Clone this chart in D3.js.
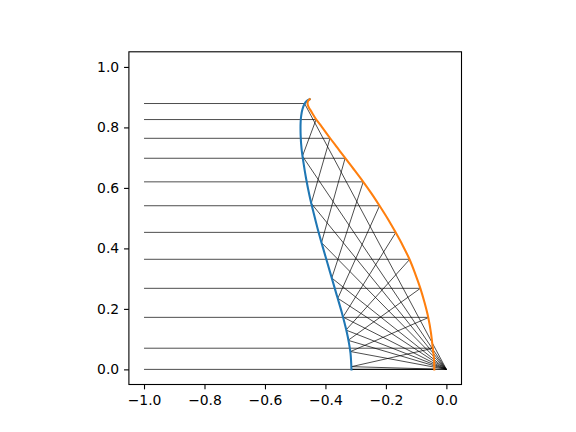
<!DOCTYPE html>
<html>
<head>
<meta charset="utf-8">
<script src="https://cdn.jsdelivr.net/npm/d3@7"></script>
<style>
html,body{margin:0;padding:0;background:#fff;}
svg{display:block;}
text{font-family:"DejaVu Sans",sans-serif;font-size:13.9px;fill:#000;}
</style>
</head>
<body>
<svg id="chart" width="576" height="432"></svg>
<script>
// ---- data ----
// blue curve (x, y) from top tip downward
const blueX = [-0.452,-0.462,-0.469,-0.476,-0.480,-0.482,-0.482,-0.479,-0.473,-0.464,-0.453,-0.440,-0.426,-0.409,-0.393,-0.377,-0.361,-0.345,-0.331,-0.322,-0.317,-0.314];
const blueY = [0.893,0.887,0.878,0.860,0.840,0.818,0.774,0.730,0.686,0.631,0.576,0.521,0.466,0.405,0.350,0.295,0.240,0.185,0.130,0.086,0.053,0.000];
// orange curve (x, y) from top tip downward
const orangeX = [-0.452,-0.458,-0.459,-0.455,-0.447,-0.431,-0.412,-0.385,-0.360,-0.335,-0.305,-0.275,-0.248,-0.221,-0.194,-0.168,-0.144,-0.122,-0.103,-0.086,-0.072,-0.060,-0.051,-0.045,-0.041,-0.040];
const orangeY = [0.893,0.886,0.877,0.866,0.853,0.827,0.802,0.765,0.732,0.699,0.660,0.620,0.582,0.541,0.498,0.453,0.409,0.364,0.316,0.268,0.220,0.172,0.121,0.070,0.035,0.000];
// incoming horizontal rays: height, x where they meet the orange curve,
// point where the reflected ray meets the blue curve
const rayY  = [0.879,0.826,0.764,0.698,0.620,0.541,0.453,0.364,0.268,0.172,0.070,0.000];
const hitX  = [-0.469,-0.431,-0.385,-0.335,-0.275,-0.221,-0.167,-0.121,-0.086,-0.058,-0.043,-0.040];
const bX    = [-0.469,-0.476,-0.447,-0.413,-0.379,-0.359,-0.342,-0.332,-0.325,-0.317,-0.314,-0.314];
const bY    = [0.879,0.705,0.549,0.419,0.302,0.235,0.173,0.130,0.096,0.059,0.009,0.000];
const rayStartX = -1.0;
const focus = [0.0, 0.0];
const xTicks = [-1.0,-0.8,-0.6,-0.4,-0.2,0.0];
const yTicks = [0.0,0.2,0.4,0.6,0.8,1.0];
const xDomain = [-1.05, 0.05];
const yDomain = [-0.05, 1.05];

// ---- layout ----
const L = 128.9, R = 461.5, T = 51.8, B = 384.5;
const svg = d3.select("#chart");
const x = d3.scaleLinear().domain(xDomain).range([L, R]);
const y = d3.scaleLinear().domain(yDomain).range([B, T]);

const g = svg.append("g");
g.append("defs").append("clipPath").attr("id","clip")
  .append("rect").attr("x",L).attr("y",T).attr("width",R-L).attr("height",B-T);

const plot = g.append("g").attr("clip-path","url(#clip)");
const line = d3.line().x(d => x(d[0])).y(d => y(d[1]));

// rays
const rays = rayY.map((ry, i) => [[rayStartX, ry],[hitX[i], ry],[bX[i], bY[i]], focus]);
plot.selectAll("path.ray").data(rays).enter().append("path")
  .attr("class","ray")
  .attr("d", line)
  .attr("fill","none")
  .attr("stroke","#000")
  .attr("stroke-width",0.7);

// curves
const blue = blueX.map((v,i)=>[v, blueY[i]]);
const orange = orangeX.map((v,i)=>[v, orangeY[i]]);
const cline = d3.line().x(d => x(d[0])).y(d => y(d[1])).curve(d3.curveCatmullRom.alpha(0.5));
plot.append("path").attr("d", cline(blue)).attr("fill","none")
  .attr("stroke","#1f77b4").attr("stroke-width",2.08).attr("stroke-linecap","square");
plot.append("path").attr("d", cline(orange)).attr("fill","none")
  .attr("stroke","#ff7f0e").attr("stroke-width",2.08).attr("stroke-linecap","square");

// axes
const fmt = v => (v < 0 ? "\u2212" : "") + Math.abs(v).toFixed(1);
const xAxis = d3.axisBottom(x).tickValues(xTicks).tickSize(4.86).tickPadding(4.86).tickFormat(fmt);
const yAxis = d3.axisLeft(y).tickValues(yTicks).tickSize(4.86).tickPadding(4.86).tickFormat(fmt);
const gx = g.append("g").attr("transform",`translate(0,${B})`).call(xAxis);
const gy = g.append("g").attr("transform",`translate(${L},0)`).call(yAxis);
[gx, gy].forEach(a => {
  a.select(".domain").remove();
  a.selectAll(".tick line").attr("stroke","#000").attr("stroke-width",1.1);
  a.selectAll(".tick text").attr("font-family","DejaVu Sans").attr("font-size","13.9px").attr("fill","#000");
});
gx.selectAll(".tick text").attr("dy","0.76em");

// frame
g.append("rect").attr("x",L).attr("y",T).attr("width",R-L).attr("height",B-T)
  .attr("fill","none").attr("stroke","#000").attr("stroke-width",1.1);
</script>
</body>
</html>
